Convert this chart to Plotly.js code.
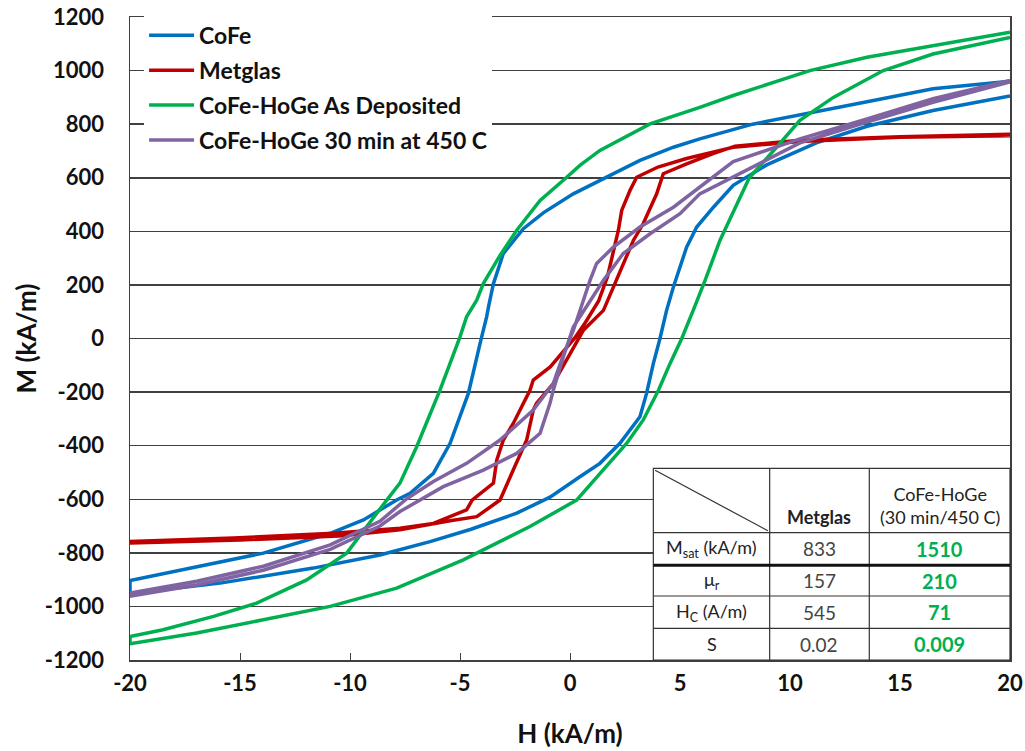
<!DOCTYPE html>
<html><head><meta charset="utf-8">
<script src="https://cdn.plot.ly/plotly-3.0.1.min.js"></script>
<style>html,body{margin:0;padding:0;background:#fff}#chart{width:1025px;height:751px}</style>
</head><body><div id="chart"></div>
<script>
// CoFe loop: descending branch (H from +20 to -20) then ascending branch
const cofeH = [20,16.5,13.5,10.45,8.3,5.9,4.7,3.18,1.67,0.15,-1.2,-2.12,-3.03,-3.48,-3.7,-3.79,-4.09,-4.62,-5.45,-6.21,-7.27,-7.88,-9.39,-10.9,-13.94,-16.97,-20,
  -20,-15.9,-11.67,-8.64,-6.36,-4.5,-2.42,-0.91,0.45,1.36,2.27,3.18,3.48,3.79,4.09,4.39,4.7,5.3,5.76,6.52,7.42,8.94,11.2,13.5,16.5,20];
const cofeM = [960,932,884,836,800,745,714,665,602,540,470,410,317,205,120,81,-19,-205,-391,-503,-578,-603,-677,-727,-801,-851,-903,
  -952,-913,-857,-808,-758,-712,-652,-592,-516,-466,-391,-292,-205,-93,0,105,192,341,416,490,572,648,730,792,851,905];

const metglasH = [20,15,10.45,7.42,6.82,5.3,4.0,3.03,2.73,2.35,2.2,2.0,1.7,1.3,0.7,0.2,-0.9,-1.67,-1.82,-2.58,-3.03,-3.33,-3.48,-4.45,-4.7,-6.21,-7.73,-10.76,-15.3,-20,
  -20,-15,-10.5,-7.73,-6.36,-5.45,-4.24,-3.18,-2.58,-1.97,-1.67,-1.52,-0.76,-0.15,0.61,1.52,1.97,2.42,2.88,3.33,3.94,4.24,5.3,6.5,7.5,10.45,15,20];
const metglasM = [757,751,735,714,702,672,640,602,553,478,404,330,230,140,60,0,-106,-155,-193,-317,-379,-454,-540,-603,-640,-690,-708,-727,-745,-758,
  -763,-752,-737,-714,-693,-680,-665,-603,-491,-379,-267,-242,-168,-81,31,105,192,280,366,429,540,615,652,690,718,740,753,762];

const asDepH = [20,16.5,13.5,10.9,8.94,7.42,5.9,3.64,1.36,0.45,-0.2,-1.36,-2.42,-3.18,-3.94,-4.24,-4.7,-5.0,-5.91,-6.97,-7.73,-8.33,-10.15,-11.97,-14.24,-16.2,-18.5,-20,
  -20,-16.97,-13.94,-10.9,-7.88,-4.85,-3.33,-1.82,0.3,1.36,2.58,3.33,4.02,4.55,5.08,5.6,6.14,6.82,7.42,8.15,9.39,10.45,11.97,14.24,16.5,20];
const asDepM = [1143,1093,1050,1000,948,907,863,801,702,646,598,515,404,310,205,143,81,6,-193,-404,-540,-603,-801,-901,-988,-1037,-1087,-1112,
  -1139,-1099,-1050,-1000,-932,-826,-764,-702,-603,-503,-391,-304,-193,-93,0,105,217,367,470,600,714,814,900,1000,1062,1124];

const annealH = [20,16.5,13.5,10.45,7.42,6.82,4.7,3.18,1.97,1.21,0.91,0.61,0.15,-0.3,-0.76,-1.67,-3.18,-4.7,-6.21,-7.42,-8.64,-10.9,-13.94,-16.97,-20,
  -20,-16.97,-13.94,-10.9,-8.64,-7.73,-5.76,-3.94,-2.42,-1.36,-0.91,-0.76,-0.3,0.15,1.52,2.42,3.64,5.0,5.9,6.82,10.45,13.5,16.5,20];
const annealM = [963,895,820,745,660,622,490,416,341,280,217,143,30,-60,-168,-267,-379,-466,-534,-598,-682,-770,-850,-906,-950,
  -962,-920,-865,-787,-700,-646,-553,-491,-429,-354,-242,-193,-68,43,217,317,391,466,540,578,730,808,882,958];

const seriesNames = ['CoFe','Metglas','CoFe-HoGe As Deposited','CoFe-HoGe 30 min at 450 C'];
const seriesColors = ['#0070C0','#C00000','#00B050','#8064A2'];

const xTicks = [-20,-15,-10,-5,0,5,10,15,20];
const yTicks = [-1200,-1000,-800,-600,-400,-200,0,200,400,600,800,1000,1200];

// inset table
const tableCols = ['Metglas','CoFe-HoGe<br>(30 min/450 C)'];
const tableRows = ['M<sub>sat</sub> (kA/m)','μ<sub>r</sub>','H<sub>C</sub> (A/m)','S'];
const metglasVals = ['833','157','545','0.02'];
const cofeHoGeVals = ['1510','210','71','0.009'];

const FONT = 'Lato, "Open Sans", sans-serif';
const xs = [cofeH, metglasH, asDepH, annealH];
const ys = [cofeM, metglasM, asDepM, annealM];

const traces = seriesNames.map((n,i)=>({
  type:'scatter', mode:'lines', name:n, x:xs[i], y:ys[i], legendgroup:'g'+i,
  line:{color:seriesColors[i], width:3.5}
}));

// table geometry (paper coords)
const cx = [0.5947, 0.7269, 0.8401, 1.0];
const ry = [0.2981, 0.1980, 0.1473, 0.0995, 0.0493, 0.0];
const shapes = [];
shapes.push({type:'rect', xref:'paper', yref:'paper', x0:cx[0], x1:cx[3], y0:ry[5], y1:ry[0], fillcolor:'white', line:{color:'#333', width:1.2}, layer:'above'});
[cx[1],cx[2]].forEach(x=>shapes.push({type:'line', xref:'paper', yref:'paper', x0:x, x1:x, y0:ry[5], y1:ry[0], line:{color:'#333', width:1.2}, layer:'above'}));
[ry[1],ry[3],ry[4]].forEach(y=>shapes.push({type:'line', xref:'paper', yref:'paper', x0:cx[0], x1:cx[3], y0:y, y1:y, line:{color:'#333', width:1.2}, layer:'above'}));
shapes.push({type:'line', xref:'paper', yref:'paper', x0:cx[0], x1:cx[3], y0:ry[2], y1:ry[2], line:{color:'#111', width:3}, layer:'above'});
shapes.push({type:'line', xref:'paper', yref:'paper', x0:cx[0]+0.002, x1:cx[1]-0.002, y0:ry[0]-0.003, y1:ry[1]+0.003, line:{color:'#333', width:1.2}, layer:'above'});

const annotations = [];
const tf = {family:FONT, size:18, color:'#333'};
annotations.push({xref:'paper', yref:'paper', x:(cx[1]+cx[2])/2, y:ry[1]+0.004, xanchor:'center', yanchor:'bottom', text:tableCols[0], showarrow:false, font:{...tf, weight:'bold', color:'#222'}});
annotations.push({xref:'paper', yref:'paper', x:(cx[2]+cx[3])/2, y:ry[1]+0.004, xanchor:'center', yanchor:'bottom', text:tableCols[1], showarrow:false, font:{...tf, color:'#222'}});
tableRows.forEach((r,i)=>{
  const yc = (ry[i+1]+ry[i+2])/2;
  annotations.push({xref:'paper', yref:'paper', x:(cx[0]+cx[1])/2, y:yc, xanchor:'center', yanchor:'middle', text:r, showarrow:false, font:{...tf, color:'#222'}});
  annotations.push({xref:'paper', yref:'paper', x:(cx[1]+cx[2])/2, y:yc, xanchor:'center', yanchor:'middle', text:metglasVals[i], showarrow:false, font:{...tf, size:19, color:'#444'}});
  annotations.push({xref:'paper', yref:'paper', x:(cx[2]+cx[3])/2, y:yc, xanchor:'center', yanchor:'middle', text:cofeHoGeVals[i], showarrow:false, font:{...tf, size:20, color:'#00B050', weight:'bold'}});
});

const axisCommon = {
  showline:true, mirror:true, linecolor:'#404040', linewidth:1.5,
  ticks:'inside', tickcolor:'#404040', zeroline:false, automargin:false,
  tickfont:{family:FONT, size:22, color:'#111', weight:'bold'}
};

const layout = {
  width:1025, height:751,
  margin:{l:130, r:15, t:17, b:91, autoexpand:false},
  paper_bgcolor:'white', plot_bgcolor:'white',
  showlegend:true,
  legend:{x:0.016, y:1.005, xanchor:'left', yanchor:'top', bgcolor:'white', borderwidth:0,
    traceorder:'grouped', tracegroupgap:2, itemwidth:45,
    font:{family:FONT, size:23, color:'#111', weight:'bold'}},
  xaxis:{...axisCommon, range:[-20,20], tickvals:xTicks, ticktext:xTicks.map(String), ticklen:7, showgrid:false, ticklabelstandoff:3,
    title:{text:'H (kA/m)', standoff:30, font:{family:FONT, size:26, color:'#111', weight:'bold'}}},
  yaxis:{...axisCommon, range:[-1200,1200], tickvals:yTicks, ticktext:yTicks.map(String), ticklen:5, showgrid:true, ticklabelstandoff:20,
    gridcolor:'#404040', gridwidth:1.5,
    title:{text:'M (kA/m)', standoff:0, font:{family:FONT, size:26, color:'#111', weight:'bold'}}},
  shapes:shapes, annotations:annotations
};

Plotly.newPlot('chart', traces, layout, {displayModeBar:false, staticPlot:true});
</script>
</body></html>
